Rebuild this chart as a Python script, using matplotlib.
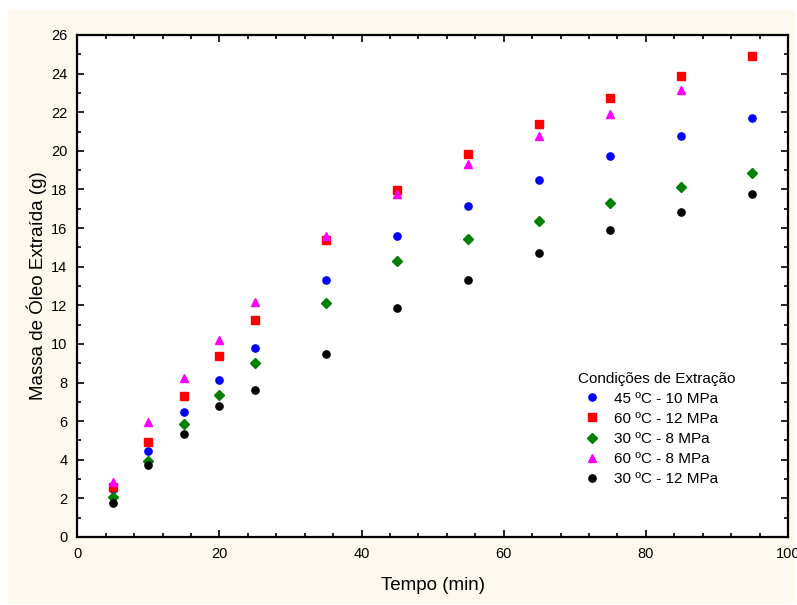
import matplotlib.pyplot as plt
from matplotlib.patches import Rectangle
from matplotlib.ticker import MultipleLocator

plt.rcParams['font.family'] = ['Liberation Sans', 'DejaVu Sans']

# tempo de extracao (min)
tempo = [5, 10, 15, 20, 25, 35, 45, 55, 65, 75, 85, 95]

# massa de oleo extraida (g) para cada condicao
m_45_10 = [2.49, 4.48, 6.45, 8.11, 9.77, 13.30, 15.58, 17.12, 18.49, 19.74, 20.76, 21.71]
m_60_12 = [2.59, 4.91, 7.28, 9.38, 11.25, 15.38, 17.99, 19.82, 21.40, 22.73, 23.89, 24.91]
m_30_8 = [2.06, 3.93, 5.86, 7.33, 8.99, 12.11, 14.29, 15.45, 16.36, 17.30, 18.13, 18.85]
m_60_8 = [2.84, 5.95, 8.22, 10.19, 12.18, 15.58, 17.75, 19.30, 20.77, 21.90, 23.16]
m_30_12 = [1.78, 3.74, 5.31, 6.76, 7.59, 9.48, 11.85, 13.30, 14.69, 15.90, 16.83, 17.76]

labels = ['45 ºC - 10 MPa', '60 ºC - 12 MPa', '30 ºC - 8 MPa', '60 ºC - 8 MPa', '30 ºC - 12 MPa']

fig = plt.figure(figsize=(7.97, 6.05), dpi=100, facecolor='white')
# fundo creme
fig.patches.append(Rectangle((8/797, 1/605), 787/797, 594/605, transform=fig.transFigure,
                             facecolor='#fef9ee', edgecolor='none', zorder=-1))

ax = fig.add_axes([77.3/797, 1-537/605, (788-77.3)/797, (537-35)/605])
ax.set_facecolor('white')

ax.plot(tempo, m_45_10, 'o', color='#0000ff', ms=5.2, mec='#0000ff', label=labels[0], ls='none')
ax.plot(tempo, m_60_12, 's', color='#ff0000', ms=5.2, label=labels[1], ls='none')
ax.plot(tempo, m_30_8, 'D', color='#007f00', ms=4.8, label=labels[2], ls='none')
ax.plot(tempo[:11], m_60_8, '^', color='#ff00ff', ms=5.6, label=labels[3], ls='none')
ax.plot(tempo, m_30_12, 'o', color='black', ms=5.2, label=labels[4], ls='none')

ax.set_xlim(0, 100)
ax.set_ylim(0, 26)
ax.xaxis.set_major_locator(MultipleLocator(20))
ax.xaxis.set_minor_locator(MultipleLocator(4))
ax.yaxis.set_major_locator(MultipleLocator(2))
ax.yaxis.set_minor_locator(MultipleLocator(1))
ax.tick_params(which='both', direction='in', top=True, right=True, width=1.2, labelsize=10.5, pad=7)
ax.tick_params(which='major', length=5)
ax.tick_params(which='minor', length=3)
for s in ax.spines.values():
    s.set_linewidth(1.6)

ax.set_xlabel('Tempo (min)', fontsize=13.5, labelpad=12)
ax.set_ylabel('Massa de Óleo Extraída (g)', fontsize=13.5, labelpad=3)

leg = ax.legend(title='Condições de Extração', loc='lower right', bbox_to_anchor=(0.945, 0.074),
                frameon=False, fontsize=11, title_fontsize=11, handletextpad=0.45,
                labelspacing=0.4, markerscale=1.0, handlelength=1.9)
leg._legend_box.align = 'left'

fig.savefig('out.png', dpi=100, facecolor=fig.get_facecolor())
